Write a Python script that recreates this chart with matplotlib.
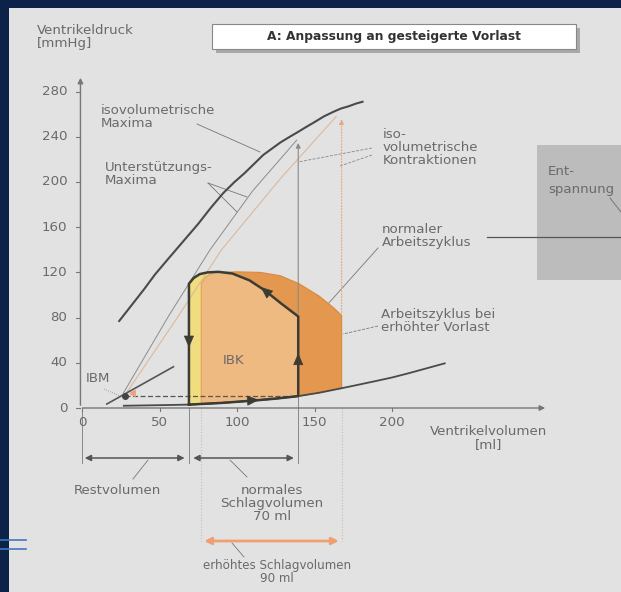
import matplotlib.pyplot as plt
from matplotlib.patches import Rectangle, Polygon

plt.rcParams['font.family'] = ['DejaVu Sans']

# --- values: volume [ml], pressure [mmHg] ---
iso_max_vol = [24, 32, 40, 47, 55, 65, 75, 83, 91, 98, 105, 111, 117, 123, 128,
               134, 139, 145, 150, 156, 162, 167, 172, 177, 181]
iso_max_p = [77, 91, 105, 118, 131, 147, 163, 177, 190, 199.5, 208, 216, 224, 230, 235,
             240, 244, 249, 253, 258, 262, 265, 267, 269.5, 271]

rest_vol = [27, 50, 69, 90, 110, 125, 139.5, 153, 167.5, 178, 190, 200, 210, 222, 234]
rest_p = [2, 2.5, 3, 4.5, 6.5, 8.3, 10.5, 13.5, 17.5, 20.5, 24, 27, 30.5, 35, 39.5]

normal_vol = [69, 90, 110, 125, 139.5, 139.5, 128, 118, 108, 97, 88, 81, 76, 72, 69, 69]
normal_p = [3, 4.5, 6.5, 8.3, 10.5, 81, 93, 104, 113, 119, 120.5, 120, 118.5, 115, 110, 3]

raised_vol = [77, 90, 110, 125, 139.5, 153, 167.5, 167.5, 162, 153, 140, 128, 115, 100,
              88, 84.5, 80, 77, 77]
raised_p = [4, 4.5, 6.5, 8.3, 10.5, 13.5, 17.5, 82, 89, 99, 110, 117, 120, 120.5,
            120, 119.5, 116, 110, 4]

support_normal_vol = [26.6, 55.7, 82.6, 110, 138.5]
support_normal_p = [13, 81, 140, 192, 237]
support_raised_vol = [28, 62, 90, 128, 164]
support_raised_p = [12, 81, 140, 203, 258]

ibm_line_vol = [16, 59]
ibm_line_p = [3.5, 36.5]
ibm_vol, ibm_p = 28, 11

esv_normal, edv_normal = 69, 139.5
esv_raised, edv_raised = 77, 167.5
p_top_normal, p_top_raised = 81, 82
p_max_normal, p_max_raised = 237, 258

# direction arrows on the normal cycle: position and direction
cyc_arrow_vol = [112, 139.5, 118, 69]
cyc_arrow_p = [7, 45, 104, 57]
cyc_arrow_dv = [4, 0, -4, 0]
cyc_arrow_dp = [0.4, 6, 4.6, -6]

x_ticks = [0, 50, 100, 150, 200]
y_ticks = [0, 40, 80, 120, 160, 200, 240, 280]

# pixel layout of the page: origin and scale of the drawing
X0, KX = 82, 1.55
Y0, KY = 408, 1.13
W, H = 621, 592


def P(px, py):
    """page pixel -> data coordinates (layout only)"""
    return (px - X0) / KX, (Y0 - py) / KY


fig = plt.figure(figsize=(W / 100, H / 100), dpi=100)
fig.patch.set_facecolor('#0c2248')
ax = fig.add_axes([0, 0, 1, 1])
ax.set_xlim(P(0, 0)[0], P(W, 0)[0])
ax.set_ylim(P(0, H)[1], P(0, 0)[1])
ax.axis('off')

# page
ax.add_patch(Rectangle((9 / W, 0), 1, 1 - 8 / H, transform=ax.transAxes,
                       facecolor='#e2e2e2', edgecolor='none', zorder=0))
for yy in (540, 549):
    ax.plot([0, 26 / W], [1 - yy / H] * 2, transform=ax.transAxes,
            color='#3f78c0', lw=1.2, zorder=0.5)

txt = '#6a6a6a'
dark = '#3c3c34'
fs = 9.6

# right grey box "Entspannung"
bx0, by0 = P(537, 280)
bx1, by1 = P(W, 145)
ax.add_patch(Rectangle((bx0, by0), bx1 - bx0, by1 - by0,
                       facecolor='#bcbcbc', edgecolor='none', zorder=0.6))
ax.text(*P(548, 172), 'Ent-', fontsize=fs, color=txt, va='center')
ax.text(*P(548, 190), 'spannung', fontsize=fs, color=txt, va='center')
ax.plot(*zip(P(610, 198), P(W, 212)), color='#777', lw=0.7)
ax.plot(*zip(P(487, 237), P(W, 237)), color='#555', lw=0.9)

# title box with shadow
tx0, ty0 = P(212, 49)
tx1, ty1 = P(576, 24)
sx, sy = 4 / KX, 4 / KY
ax.add_patch(Rectangle((tx0 + sx, ty0 - sy), tx1 - tx0, ty1 - ty0,
                       facecolor='#a8a8a8', edgecolor='none', zorder=1))
ax.add_patch(Rectangle((tx0, ty0), tx1 - tx0, ty1 - ty0,
                       facecolor='white', edgecolor='#888', lw=0.8, zorder=2))
ax.text((tx0 + tx1) / 2, (ty0 + ty1) / 2, 'A: Anpassung an gesteigerte Vorlast',
        ha='center', va='center', fontsize=8.8, fontweight='bold',
        color='#333', zorder=3)

# axes with arrows
ax.annotate('', xy=(-1, P(0, 75)[1]), xytext=(-1, 0),
            arrowprops=dict(arrowstyle='-|>', color='#777', lw=1, mutation_scale=8))
ax.annotate('', xy=(P(548, 0)[0], 0), xytext=(-1.5, 0),
            arrowprops=dict(arrowstyle='-|>', color='#777', lw=1, mutation_scale=8))
for t in y_ticks:
    ax.plot([-4, -1], [t, t], color='#777', lw=0.8)
    ax.text(-9.5, t, str(t), ha='right', va='center', fontsize=fs, color=txt)
for t in x_ticks:
    ax.plot([t, t], [0, -2.5], color='#777', lw=0.8)
    ax.text(t, P(0, 423)[1], str(t), ha='center', va='center', fontsize=fs, color=txt)
ax.text(*P(37, 37), 'Ventrikeldruck\n[mmHg]', fontsize=fs, color=txt,
        va='center', linespacing=1.05)
ax.text(*P(489, 438), 'Ventrikelvolumen\n[ml]', fontsize=fs, color=txt,
        ha='center', va='center', linespacing=1.05)

# filled work cycles: yellow normal cycle, orange raised cycle, lighter overlap
ax.add_patch(Polygon(list(zip(normal_vol, normal_p)), closed=True,
                     facecolor='#f1dd80', edgecolor='none', zorder=2))
raised_patch = Polygon(list(zip(raised_vol, raised_p)), closed=True,
                       facecolor='#e4984f', edgecolor='#d9893c', lw=0.8, zorder=2.1)
ax.add_patch(raised_patch)
overlap = Polygon(list(zip(normal_vol, normal_p)), closed=True,
                  facecolor='#fbe4c2', alpha=0.45, edgecolor='none', zorder=2.2)
ax.add_patch(overlap)
overlap.set_clip_path(raised_patch)

# thin support lines and maxima curve
ax.plot(support_normal_vol, support_normal_p, color='#8c8c8c', lw=0.7, zorder=2.5)
ax.plot(support_raised_vol, support_raised_p, color='#d9b9a0', lw=0.8, zorder=2.5)
ax.plot(iso_max_vol, iso_max_p, color='#4a4a4a', lw=1.5, zorder=3)
ax.plot(rest_vol, rest_p, color='#4a4a4a', lw=1.3, zorder=3)
ax.plot(ibm_line_vol, ibm_line_p, color='#555', lw=1.2, zorder=3)

# isovolumetric contraction verticals
ax.annotate('', xy=(edv_normal, p_max_normal), xytext=(edv_normal, p_top_normal),
            arrowprops=dict(arrowstyle='-|>', color='#8a8a8a', lw=0.8,
                            mutation_scale=7), zorder=2.5)
ax.annotate('', xy=(edv_raised, p_max_raised), xytext=(edv_raised, p_top_raised),
            arrowprops=dict(arrowstyle='-|>', color='#e9a47a', lw=0.8, ls=':',
                            mutation_scale=7), zorder=2.5)

# normal cycle outline and arrows
ax.plot(normal_vol, normal_p, color=dark, lw=1.8, zorder=4, solid_joinstyle='round')
for v, p, dv, dp in zip(cyc_arrow_vol, cyc_arrow_p, cyc_arrow_dv, cyc_arrow_dp):
    ax.annotate('', xy=(v + dv, p + dp), xytext=(v, p),
                arrowprops=dict(arrowstyle='-|>,head_length=0.7,head_width=0.3',
                                color=dark, lw=0.5, mutation_scale=11), zorder=5)

# IBM point and dashed line
ax.plot([ibm_vol, edv_normal], [ibm_p, ibm_p], color='#555', lw=0.9,
        ls=(0, (4, 2)), zorder=3)
ax.plot([ibm_vol], [ibm_p], 'o', color='#444', ms=4, zorder=4)
ax.plot([ibm_vol + 5], [ibm_p + 2], marker=(3, 0, -30), color='#eea080', ms=5, zorder=4)

# volume arrows below the axis
y_norm = P(0, 458)[1]
y_raise = P(0, 541)[1]
for v in (0, esv_normal, edv_normal):
    ax.plot([v, v], [0, y_norm - 4], color='#888', lw=0.7, zorder=1)
for v in (esv_raised, edv_raised):
    ax.plot([v, v], [0, y_raise], color='#d2b7a4', lw=0.8, ls=':', zorder=1)
ax.plot([edv_normal, edv_normal], [0, p_top_normal], color='#888', lw=0.7, zorder=1)
ax.annotate('', xy=(0, y_norm), xytext=(esv_normal - 1, y_norm),
            arrowprops=dict(arrowstyle='<|-|>', color='#555', lw=1.1, mutation_scale=9))
ax.annotate('', xy=(esv_normal + 1, y_norm), xytext=(edv_normal - 1, y_norm),
            arrowprops=dict(arrowstyle='<|-|>', color='#555', lw=1.1, mutation_scale=9))
ax.annotate('', xy=(esv_raised, y_raise), xytext=(edv_raised, y_raise),
            arrowprops=dict(arrowstyle='<|-|>', color='#f0a070', lw=2, mutation_scale=10))

# labels below the axis
ax.text(*P(117, 490), 'Restvolumen', ha='center', va='center', fontsize=fs, color=txt)
ax.plot(*zip(P(133, 479), P(148, 460)), color='#777', lw=0.6)
ax.text(*P(272, 504), 'normales\nSchlagvolumen\n70 ml', ha='center', va='center',
        fontsize=fs, color=txt, linespacing=1.0)
ax.plot(*zip(P(247, 477), P(230, 460)), color='#777', lw=0.6)
ax.text(*P(277, 572), 'erhöhtes Schlagvolumen\n90 ml', ha='center', va='center',
        fontsize=8.6, color=txt, linespacing=1.0)
ax.plot(*zip(P(244, 557), P(232, 543)), color='#777', lw=0.6)

# annotations in the plot area
ax.text(*P(101, 117), 'isovolumetrische\nMaxima', fontsize=fs, color=txt,
        va='center', linespacing=1.0)
ax.plot(*zip(P(197, 124), P(260, 152)), color='#777', lw=0.6)
ax.text(*P(105, 174), 'Unterstützungs-\nMaxima', fontsize=fs, color=txt,
        va='center', linespacing=1.0)
ax.plot(*zip(P(208, 183), P(247, 197)), color='#777', lw=0.6)
ax.plot(*zip(P(208, 183), P(237, 212)), color='#777', lw=0.6)
ax.text(*P(383, 148), 'iso-\nvolumetrische\nKontraktionen', fontsize=fs, color=txt,
        va='center', linespacing=1.0)
ax.plot(*zip(P(372, 148), P(298, 162)), color='#888', lw=0.6, ls='--')
ax.plot(*zip(P(372, 155), P(340, 166)), color='#888', lw=0.6, ls='--')
ax.text(*P(382, 236), 'normaler\nArbeitszyklus', fontsize=fs, color=txt,
        va='center', linespacing=1.0)
ax.plot(*zip(P(378, 248), P(302, 333)), color='#777', lw=0.6)
ax.text(*P(381, 321), 'Arbeitszyklus bei\nerhöhter Vorlast', fontsize=fs, color=txt,
        va='center', linespacing=1.0)
ax.plot(*zip(P(378, 326), P(343, 334)), color='#777', lw=0.6, ls='--')
ax.text(*P(234, 360), 'IBK', fontsize=fs, color=txt, ha='center', va='center')
ax.plot(*zip(P(227, 368), P(211, 391)), color='#888', lw=0.6, ls=':')
ax.text(*P(98, 378), 'IBM', fontsize=fs, color=txt, ha='center', va='center')
ax.plot(*zip(P(104, 389), P(120, 396)), color='#888', lw=0.6, ls=':')

fig.savefig('out.png', dpi=100, facecolor=fig.get_facecolor())
